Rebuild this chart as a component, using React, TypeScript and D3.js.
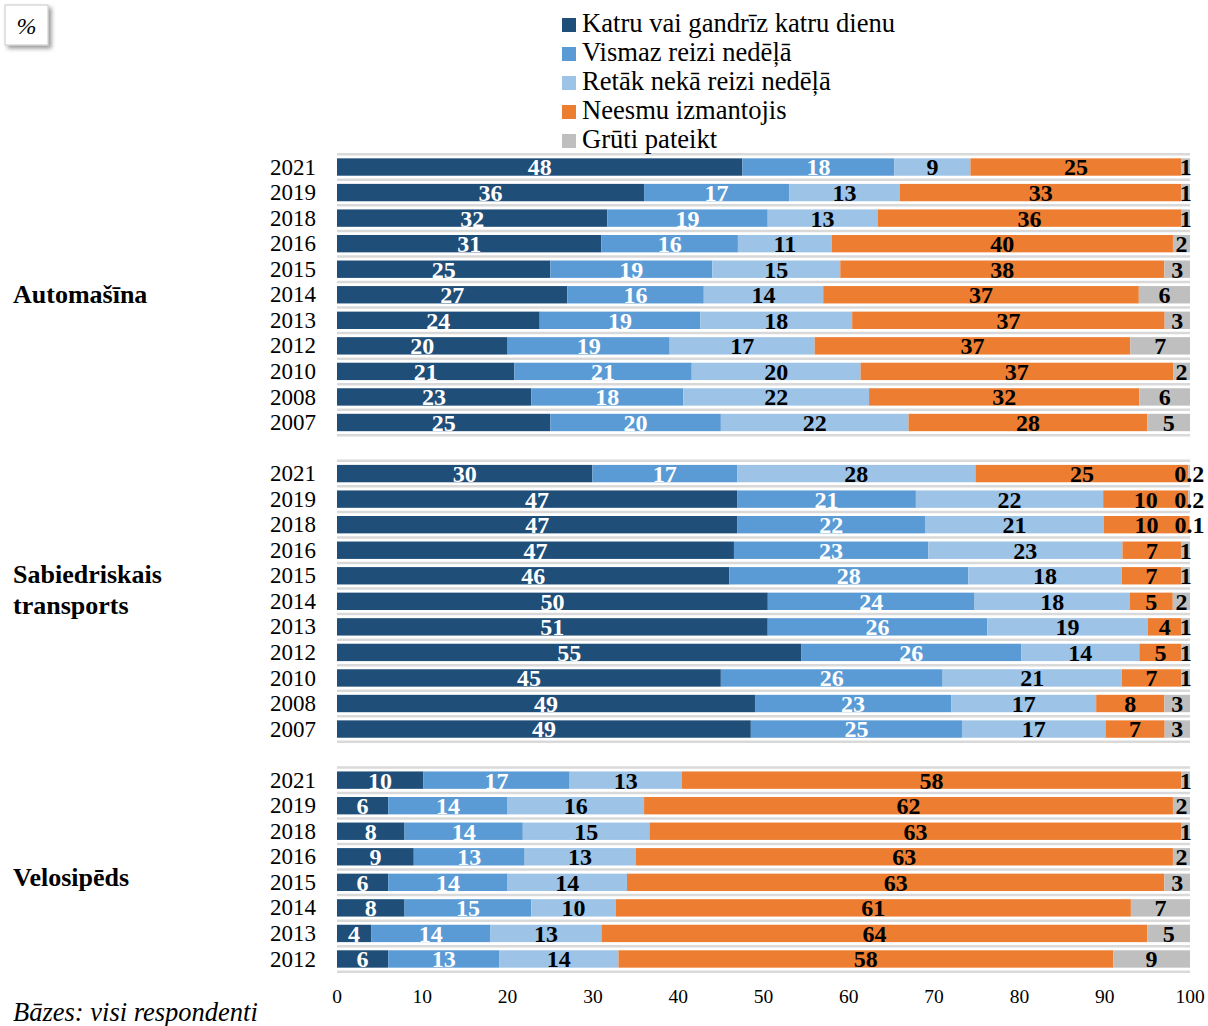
//@ts-nocheck
import * as d3 from 'd3';
import { useEffect } from 'react';

// Series (legend order) and colours
const keys = [
  'Katru vai gandrīz katru dienu',
  'Vismaz reizi nedēļā',
  'Retāk nekā reizi nedēļā',
  'Neesmu izmantojis',
  'Grūti pateikt',
];
const colors = ['#1f4e79', '#5b9bd5', '#9dc3e6', '#ed7d31', '#bfbfbf'];
const labelColors = ['#ffffff', '#ffffff', '#000000', '#000000', '#000000'];

// Automašīna
const carYears = ['2021', '2019', '2018', '2016', '2015', '2014', '2013', '2012', '2010', '2008', '2007'];
const carValues = [
  [48, 18, 9, 25, 1],
  [36, 17, 13, 33, 1],
  [32, 19, 13, 36, 1],
  [31, 16, 11, 40, 2],
  [25, 19, 15, 38, 3],
  [27, 16, 14, 37, 6],
  [24, 19, 18, 37, 3],
  [20, 19, 17, 37, 7],
  [21, 21, 20, 37, 2],
  [23, 18, 22, 32, 6],
  [25, 20, 22, 28, 5],
];

// Sabiedriskais transports
const ptYears = ['2021', '2019', '2018', '2016', '2015', '2014', '2013', '2012', '2010', '2008', '2007'];
const ptValues = [
  [30, 17, 28, 25, 0.2],
  [47, 21, 22, 10, 0.2],
  [47, 22, 21, 10, 0.1],
  [47, 23, 23, 7, 1],
  [46, 28, 18, 7, 1],
  [50, 24, 18, 5, 2],
  [51, 26, 19, 4, 1],
  [55, 26, 14, 5, 1],
  [45, 26, 21, 7, 1],
  [49, 23, 17, 8, 3],
  [49, 25, 17, 7, 3],
];

// Velosipēds
const bikeYears = ['2021', '2019', '2018', '2016', '2015', '2014', '2013', '2012'];
const bikeValues = [
  [10, 17, 13, 58, 1],
  [6, 14, 16, 62, 2],
  [8, 14, 15, 63, 1],
  [9, 13, 13, 63, 2],
  [6, 14, 14, 63, 3],
  [8, 15, 10, 61, 7],
  [4, 14, 13, 64, 5],
  [6, 13, 14, 58, 9],
];

const groupNames = [['Automašīna'], ['Sabiedriskais', 'transports'], ['Velosipēds']];
const xTicks = [0, 10, 20, 30, 40, 50, 60, 70, 80, 90, 100];

export default function App() {
  const initial = () => {
    const el = document.querySelector('#playground') as HTMLDivElement;
    el.innerHTML = '';

    const SIZES = { WIDTH: 1208, HEIGHT: 1026 };
    const FONT = '"Liberation Serif", "Times New Roman", serif';

    // rows: every year of every group, with one empty slot between groups
    const groups = [
      { years: carYears, values: carValues },
      { years: ptYears, values: ptValues },
      { years: bikeYears, values: bikeValues },
    ];
    const slots: string[] = [];
    const rows: any[] = [];
    groups.forEach((g, gi) => {
      if (gi > 0) slots.push(`gap-${gi}`);
      g.years.forEach((yr, i) => {
        const id = `${gi}-${yr}`;
        slots.push(id);
        const row: any = { id, year: yr, group: gi };
        g.values[i].forEach((v, k) => (row[k] = v));
        rows.push(row);
      });
    });

    const x = d3.scaleLinear().domain([0, 100]).range([337, 1190]);
    const y = d3
      .scaleBand()
      .domain(slots)
      .range([154.25, 971.75])
      .paddingInner(0.32)
      .paddingOuter(0.16);
    const step = y.step();
    const gapHalf = (step - y.bandwidth()) / 2;

    // 100% stacked
    const stack = d3
      .stack()
      .keys(d3.range(keys.length))
      .offset(d3.stackOffsetExpand);
    const series = stack(rows);

    const svg = d3
      .create('svg')
      .attr('width', SIZES.WIDTH)
      .attr('height', SIZES.HEIGHT)
      .attr('viewBox', [0, 0, SIZES.WIDTH, SIZES.HEIGHT])
      .style('position', 'absolute')
      .style('left', 0)
      .style('top', 0)
      .style('font-family', FONT);

    // shadow for the % box
    const defs = svg.append('defs');
    const filter = defs.append('filter').attr('id', 'shadow').attr('x', '-30%').attr('y', '-30%').attr('width', '170%').attr('height', '170%');
    filter.append('feDropShadow').attr('dx', 3).attr('dy', 3).attr('stdDeviation', 2).attr('flood-color', '#000').attr('flood-opacity', 0.4);

    svg.append('rect').attr('x', 5).attr('y', 5).attr('width', 43).attr('height', 40).attr('fill', '#fff').attr('stroke', '#c8c8c8').attr('filter', 'url(#shadow)');
    svg.append('text').attr('x', 26.5).attr('y', 34).attr('text-anchor', 'middle').attr('font-style', 'italic').attr('font-size', 24).text('%');

    // category gridlines (band boundaries)
    const gridY = slots.map((s) => y(s) - gapHalf).concat([y(slots[slots.length - 1]) + y.bandwidth() + gapHalf]);
    svg
      .append('g')
      .selectAll('line')
      .data(gridY)
      .join('line')
      .attr('x1', x(0))
      .attr('x2', x(100))
      .attr('y1', (d) => d)
      .attr('y2', (d) => d)
      .attr('stroke', '#d9d9d9')
      .attr('stroke-width', 2.5);

    // bars
    const gBars = svg.append('g');
    series.forEach((s, k) => {
      gBars
        .append('g')
        .attr('fill', colors[k])
        .selectAll('rect')
        .data(s)
        .join('rect')
        .attr('x', (d) => x(d[0] * 100))
        .attr('width', (d) => x(d[1] * 100) - x(d[0] * 100))
        .attr('y', (d) => y(d.data.id))
        .attr('height', y.bandwidth());
    });

    // value labels
    const gLabels = svg.append('g').attr('font-weight', 'bold').attr('font-size', 24).attr('text-anchor', 'middle');
    series.forEach((s, k) => {
      gLabels
        .append('g')
        .attr('fill', labelColors[k])
        .selectAll('text')
        .data(s)
        .join('text')
        .attr('x', (d) => x(((d[0] + d[1]) / 2) * 100))
        .attr('y', (d) => y(d.data.id) + y.bandwidth() / 2)
        .attr('dy', '0.35em')
        .text((d) => String(d.data[k]));
    });

    // year labels
    svg
      .append('g')
      .attr('font-size', 23)
      .attr('text-anchor', 'end')
      .selectAll('text')
      .data(rows)
      .join('text')
      .attr('x', 316)
      .attr('y', (d) => y(d.id) + y.bandwidth() / 2)
      .attr('dy', '0.33em')
      .text((d) => d.year);

    // group labels
    const groupOffsets = [-1, -12, 7];
    groups.forEach((g, gi) => {
      const first = y(`${gi}-${g.years[0]}`);
      const last = y(`${gi}-${g.years[g.years.length - 1]}`);
      const mid = (first + last) / 2 + y.bandwidth() / 2 + groupOffsets[gi];
      const lines = groupNames[gi];
      const lh = 31;
      svg
        .append('g')
        .attr('font-size', 26)
        .attr('font-weight', 'bold')
        .selectAll('text')
        .data(lines)
        .join('text')
        .attr('x', 13)
        .attr('y', (d, i) => mid + (i - (lines.length - 1) / 2) * lh)
        .attr('dy', '0.35em')
        .text((d) => d);
    });

    // x axis tick labels
    svg
      .append('g')
      .attr('font-size', 19.5)
      .attr('text-anchor', 'middle')
      .selectAll('text')
      .data(xTicks)
      .join('text')
      .attr('x', (d) => x(d))
      .attr('y', 1003)
      .text((d) => d);

    // legend
    const legend = svg
      .append('g')
      .selectAll('g')
      .data(keys)
      .join('g')
      .attr('transform', (d, i) => `translate(562,${32 + i * 29})`);
    legend
      .append('rect')
      .attr('x', 0)
      .attr('y', -14)
      .attr('width', 14)
      .attr('height', 14)
      .attr('fill', (d, i) => colors[i]);
    legend
      .append('text')
      .attr('x', 20)
      .attr('y', 0)
      .attr('font-size', 26.6)
      .text((d) => d);

    // footnote
    svg
      .append('text')
      .attr('x', 13)
      .attr('y', 1021)
      .attr('font-size', 26.5)
      .attr('font-style', 'italic')
      .text('Bāzes: visi respondenti');

    el.append(svg.node() ?? '');
  };

  useEffect(() => {
    initial();
  }, []);

  return <div id='playground'></div>;
}
